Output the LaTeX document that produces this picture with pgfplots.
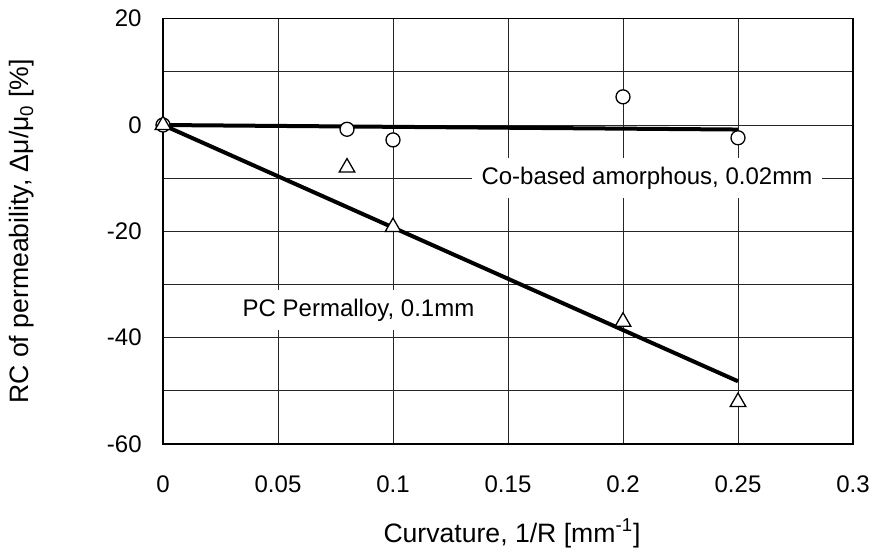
\documentclass[border=0pt]{standalone}
\usepackage{fontspec}
\setmainfont{Liberation Sans}
\usepackage{pgfplots}
\pgfplotsset{compat=1.18}

\begin{document}
\fontsize{12}{14.4}\selectfont
\begin{tikzpicture}
\useasboundingbox (0,0) rectangle (438.5pt,275.5pt);
\begin{axis}[
  at={(81.5pt,53.5pt)}, anchor=south west,
  scale only axis, width=345pt, height=212.65pt,
  xmin=0, xmax=0.3, ymin=-60, ymax=20,
  xtick={0,0.05,0.1,0.15,0.2,0.25,0.3},
  xticklabels={0,0.05,0.1,0.15,0.2,0.25,0.3},
  ytick={-60,-40,-20,0,20},
  yticklabels={-60,-40,-20,0,20},
  minor ytick={-50,-30,-10,10},
  grid=both,
  major grid style={black!85, line width=0.5pt},
  minor grid style={black!85, line width=0.5pt},
  major tick length=0pt, minor tick length=0pt,
  axis line style={black, line width=0.6pt},
  xticklabel style={yshift=-11.5pt},
  yticklabel style={xshift=-6.5pt},
  label style={font=\fontsize{13.3}{16}\selectfont},
  xlabel={Curvature, 1/R [mm\textsuperscript{-1}]},
  xlabel style={at={(axis description cs:0.5058,-0.2305)}, anchor=base},
  ylabel={RC of permeability, Δμ/μ\textsubscript{0} [\%]},
  ylabel style={at={(axis description cs:-0.2043,0.5)}, anchor=center},
]
% fitted lines
\addplot[no marks, black, line width=2pt] coordinates {(0,0) (0.25,-0.85)};
\addplot[no marks, black, line width=2pt] coordinates {(0,0) (0.25,-48.2)};
% Co-based amorphous, 0.02mm
\addplot[only marks, mark=*, mark size=3.5pt,
  mark options={fill=white, draw=black, line width=0.65pt}]
  coordinates {(0,0) (0.08,-0.8) (0.1,-2.8) (0.2,5.3) (0.25,-2.4)};
% PC Permalloy, 0.1mm
\addplot[only marks, mark=triangle*, mark size=4.5pt,
  mark options={fill=white, draw=black, line width=0.65pt}]
  coordinates {(0,0) (0.08,-8.0) (0.1,-19.2) (0.2,-37.0) (0.25,-52.1)};
\node[fill=white, inner sep=0pt, minimum width=175pt, minimum height=20pt]
  at (axis cs:0.2104,-10) {Co-based amorphous, 0.02mm};
\node[fill=white, inner sep=0pt, minimum width=136pt, minimum height=20pt]
  at (axis cs:0.085,-34.8) {PC Permalloy, 0.1mm};
\end{axis}
\end{tikzpicture}
\end{document}
